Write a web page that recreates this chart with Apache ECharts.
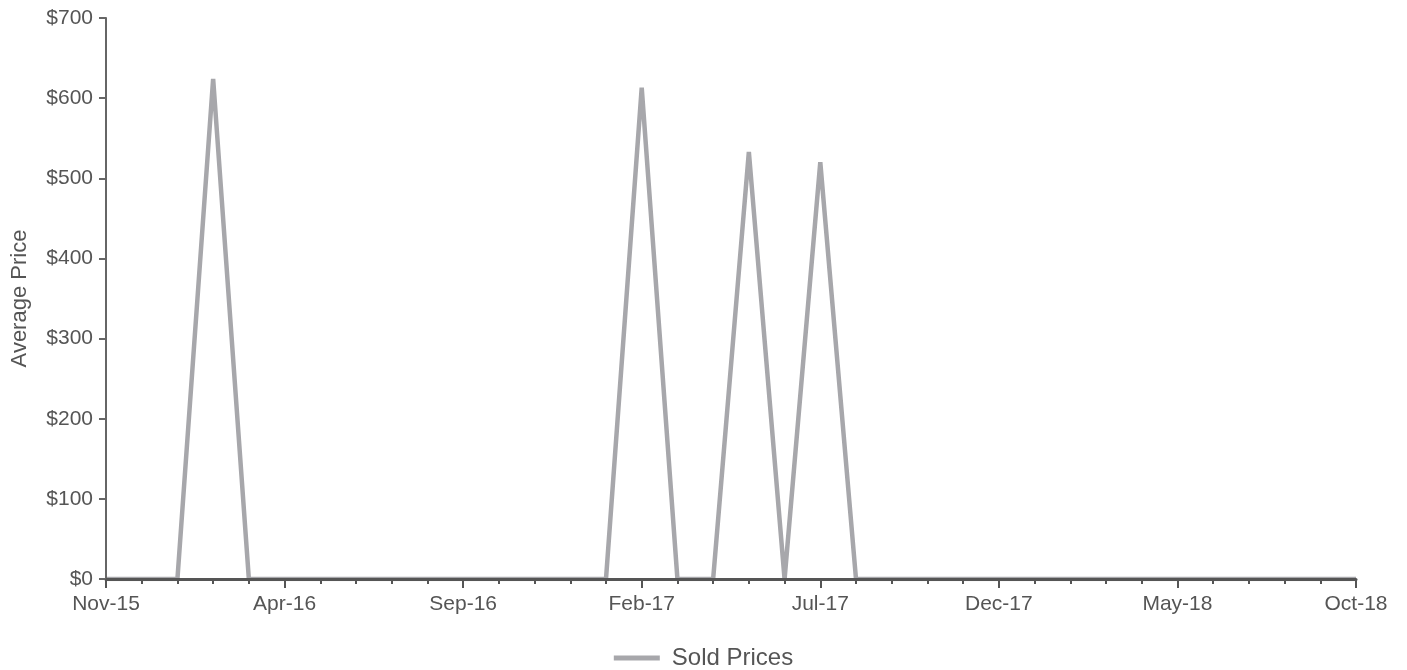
<!DOCTYPE html>
<html>
<head>
<meta charset="utf-8">
<script src="https://cdn.jsdelivr.net/npm/echarts@6/dist/echarts.min.js"></script>
<style>html,body{margin:0;padding:0;background:#fff}#c{width:1407px;height:670px}</style>
</head>
<body>
<div id="c"></div>
<script>
const months = ['Nov-15','Dec-15','Jan-16','Feb-16','Mar-16','Apr-16','May-16','Jun-16','Jul-16','Aug-16','Sep-16','Oct-16','Nov-16','Dec-16','Jan-17','Feb-17','Mar-17','Apr-17','May-17','Jun-17','Jul-17','Aug-17','Sep-17','Oct-17','Nov-17','Dec-17','Jan-18','Feb-18','Mar-18','Apr-18','May-18','Jun-18','Jul-18','Aug-18','Sep-18','Oct-18'];
const soldPrices = [0,0,0,624,0,0,0,0,0,0,0,0,0,0,0,613,0,0,533,0,520,0,0,0,0,0,0,0,0,0,0,0,0,0,0,0];
const yTicks = {min:0, max:700, interval:100};

const font = '"Liberation Sans", Arial, sans-serif';
const chart = echarts.init(document.getElementById('c'));
chart.setOption({
  animation:false,
  grid:{left:106,right:51,top:18,bottom:91,containLabel:false},
  legend:{
    data:['Sold Prices'], bottom:-5, left:'center',
    icon:'rect', itemWidth:46, itemHeight:5,
    textStyle:{fontFamily:font,fontSize:24,color:'#555',padding:[0,0,0,7]}
  },
  xAxis:[{
    type:'category', data:months, boundaryGap:false, z:5,
    axisLine:{lineStyle:{color:'#555',width:3}},
    axisTick:{interval:0,length:5,lineStyle:{color:'#555',width:2}},
    axisLabel:{interval:4,fontFamily:font,fontSize:21,color:'#555',margin:15},
    splitLine:{show:false}
  },{
    type:'category', data:months, boundaryGap:false, position:'bottom', z:5,
    axisLine:{show:false},
    axisTick:{interval:4,length:9,lineStyle:{color:'#555',width:2}},
    axisLabel:{show:false},
    splitLine:{show:false}
  }],
  yAxis:{
    type:'value', min:yTicks.min, max:yTicks.max, interval:yTicks.interval, z:5,
    name:'Average Price', nameLocation:'middle', nameGap:75, nameRotate:90,
    nameTextStyle:{fontFamily:font,fontSize:22,color:'#555'},
    axisLine:{show:true,lineStyle:{color:'#666',width:2}},
    axisTick:{show:true,length:7,lineStyle:{color:'#666',width:2}},
    axisLabel:{fontFamily:font,fontSize:21,color:'#555',margin:13,formatter:v=>'$'+v},
    splitLine:{show:false}
  },
  series:[{
    name:'Sold Prices', type:'line', data:soldPrices, symbol:'none',
    lineStyle:{color:'#a7a7ab',width:4.5,join:'miter'},
    itemStyle:{color:'#a7a7ab'}
  }]
});
</script>
</body>
</html>
